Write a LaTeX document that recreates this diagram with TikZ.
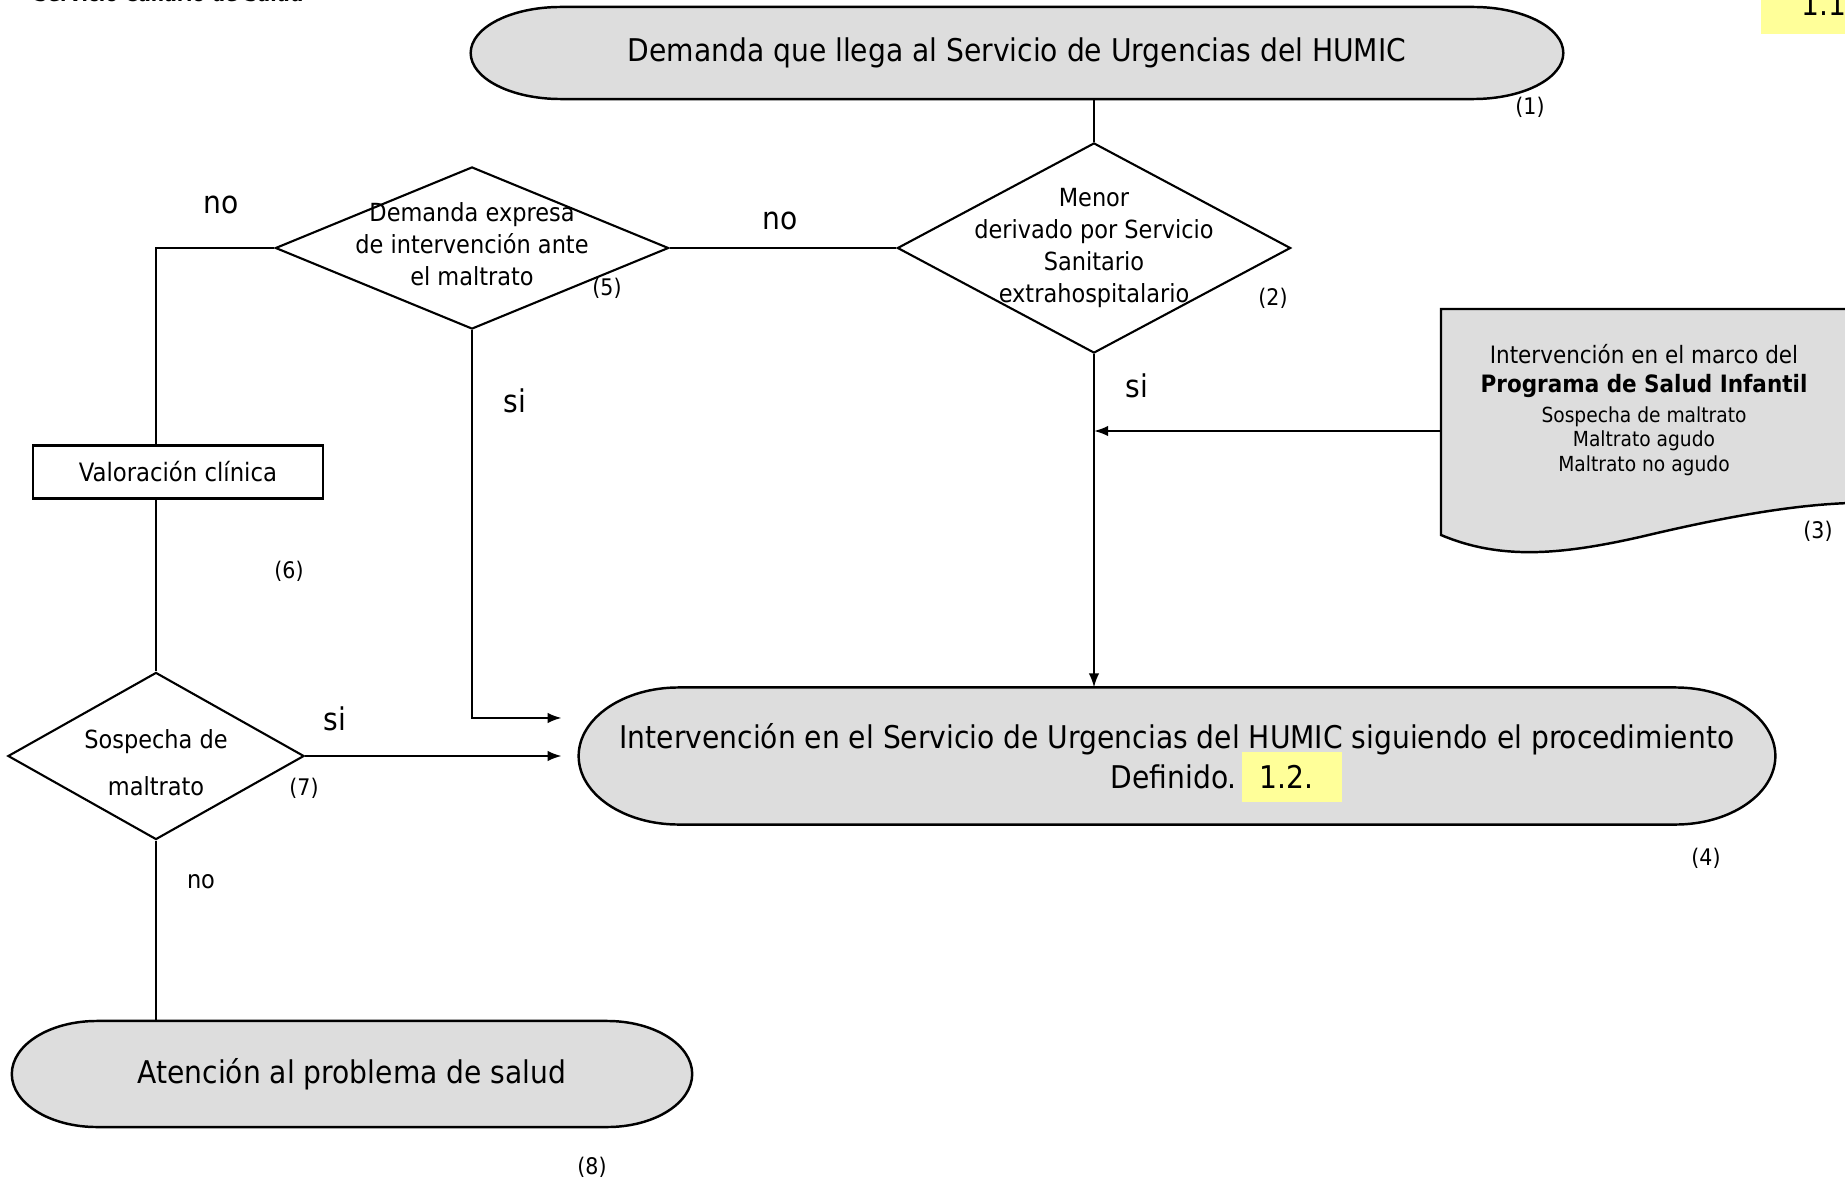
\documentclass[tikz,border=0pt]{standalone}
\usepackage{fontspec}
\setmainfont{DejaVu Sans Condensed}
\usepackage{tikz}
\usepackage{xcolor}
\usetikzlibrary{positioning}
\usetikzlibrary{arrows.meta,shapes.geometric,backgrounds}
\definecolor{termgray}{HTML}{DDDDDD}
\definecolor{hlyellow}{HTML}{FFFF99}
\newcommand{\bigtxt}{\fontsize{8.9pt}{11.4pt}\selectfont}
\newcommand{\midtxt}{\fontsize{7.1pt}{9.1pt}\selectfont}
\newcommand{\valtxt}{\fontsize{7.2pt}{9pt}\selectfont}
\newcommand{\smalltxt}{\fontsize{6.5pt}{8pt}\selectfont}
\newcommand{\doctxt}{\fontsize{5.9pt}{7pt}\selectfont}
\newcommand{\hlbox}[1]{{\setlength{\fboxsep}{0pt}\colorbox{hlyellow}{\rule[-3.8pt]{0pt}{14pt}\hspace{5pt}#1\hspace{8pt}}}}

\begin{document}
\begin{tikzpicture}[x=0.01cm, y=-0.01cm,
        >={Latex[length=4pt,width=3pt]},
        line width=0.6pt,
        term/.style={
        inner sep=0pt,
        outer sep=0pt,
        align=center,
        font=\bigtxt},
        capsule/.style={draw=black, fill=termgray, line width=0.7pt},
        decision/.style={draw=black, fill=white, diamond, inner sep=0pt},
        diatext/.style={align=center, font=\midtxt, inner sep=0pt},
        process/.style={draw=black, fill=white, rectangle, inner sep=0pt, font=\valtxt},
        numlab/.style={inner sep=0pt, font=\smalltxt},
        answer/.style={inner sep=0pt, font=\bigtxt}]

        \useasboundingbox (0,0) rectangle (1845,1182);

        % header bits, cut by the page edge
        \node[anchor=base west, inner sep=0pt, font=\doctxt\bfseries] (org) at (33,2) {Servicio Canario de Salud};
        \node[anchor=base west, fill=hlyellow, inner xsep=11.4pt, inner ysep=5pt, font=\bigtxt] (code) at (1760,16) {1.1.};

        % terminals
        \node[term, minimum width=10.92cm, minimum height=0.92cm] (dem) at (1017,53) {Demanda que llega al Servicio de Urgencias del HUMIC};
        \node[term, minimum width=11.96cm, minimum height=1.37cm] (int) at (1177,756) {Intervención en el Servicio de Urgencias del HUMIC siguiendo el procedimiento\\\hspace*{28pt}Definido.\hspace{1.5pt}\smash{\hlbox{1.2.}}};
        \node[term, minimum width=6.80cm, minimum height=1.06cm] (sal) at (352,1074) {Atención al problema de salud};

        % decisions
        \node[decision, minimum width=3.93cm, minimum height=2.10cm,
              label={[diatext]center:Menor\\derivado por Servicio\\Sanitario\\extrahospitalario}] (der) at (1094,248) {};
        \node[decision, minimum width=3.93cm, minimum height=1.62cm,
              label={[diatext, yshift=0.04cm]center:Demanda expresa\\de intervención ante\\el maltrato}] (exp) at (472,248) {};
        \node[decision, minimum width=2.96cm, minimum height=1.67cm,
              label={[diatext, yshift=-0.07cm]center:Sospecha de\\[4.3pt]maltrato}] (sos) at (156,756) {};
        \node[process, minimum width=2.9cm, minimum height=0.53cm] (val) at (178,472) {Valoración clínica};

        % programme document
        \node[align=center, inner sep=0pt, font=\doctxt] (prog) at (1644,410) {{\fontsize{6.8pt}{7pt}\selectfont Intervención en el marco del}\\[1.4pt]{\fontsize{6.8pt}{7pt}\selectfont\bfseries Programa de Salud Infantil}\\[1.4pt]Sospecha de maltrato\\Maltrato agudo\\Maltrato no agudo};
        \coordinate (docl) at (1441,431);
        \coordinate (intin) at ([xshift=-0.17cm, yshift=0.38cm]int.west);

        \begin{scope}[on background layer]
        \path[capsule] ([xshift=0.9cm]dem.north west) -- ([xshift=-0.9cm]dem.north east) arc[start angle=90, end angle=-90, x radius=0.9cm, y radius=0.46cm] -- ([xshift=0.9cm]dem.south west) arc[start angle=270, end angle=90, x radius=0.9cm, y radius=0.46cm] -- cycle;
        \path[capsule] ([xshift=1.0cm]int.north west) -- ([xshift=-1.0cm]int.north east) arc[start angle=90, end angle=-90, x radius=1.0cm, y radius=0.685cm] -- ([xshift=1.0cm]int.south west) arc[start angle=270, end angle=90, x radius=1.0cm, y radius=0.685cm] -- cycle;
        \path[capsule] ([xshift=0.85cm]sal.north west) -- ([xshift=-0.85cm]sal.north east) arc[start angle=90, end angle=-90, x radius=0.85cm, y radius=0.53cm] -- ([xshift=0.85cm]sal.south west) arc[start angle=270, end angle=90, x radius=0.85cm, y radius=0.53cm] -- cycle;
        \path[capsule] (1441,309) -- (1850,309) -- (1850,503) .. controls (1790,505) and (1720,518) .. (1640,537) .. controls (1560,555) and (1500,560) .. (1441,535) -- cycle;
        \end{scope}

        % connectors
        \draw (dem.south -| der.north) -- (der.north);
        \draw (der.west) -- (exp.east);
        \draw (exp.west) -| (val.north -| sos.north);
        \draw (val.south -| sos.north) -- (sos.north);
        \draw[->] (exp.south) |- (intin);
        \draw[->] (sos.east) -- (sos.east -| intin);
        \draw[->] (der.south) -- (der.south |- int.north);
        \draw[->] (docl) -- (docl -| der.south);
        \draw (sos.south) -- (sos.south |- sal.north);

        % answers
        \node[answer] (no1) at (221,205) {no};
        \node[answer] (no2) at (780,221) {no};
        \node[answer] (si1) at (515,401) {si};
        \node[answer] (si2) at (1137,386) {si};
        \node[answer] (si3) at (335,719) {si};
        \node[answer, font=\midtxt] (no3) at (201,882) {no};

        % step numbers
        \node[numlab] (lab1) at (1530,107) {(1)};
        \node[numlab] (lab2) at (1273,298) {(2)};
        \node[numlab] (lab3) at (1818,531) {(3)};
        \node[numlab] (lab4) at (1706,858) {(4)};
        \node[numlab] (lab5) at (607,288) {(5)};
        \node[numlab] (lab6) at (289,571) {(6)};
        \node[numlab] (lab7) at (304,788) {(7)};
        \node[numlab] (lab8) at (592,1167) {(8)};
\end{tikzpicture}
\end{document}
